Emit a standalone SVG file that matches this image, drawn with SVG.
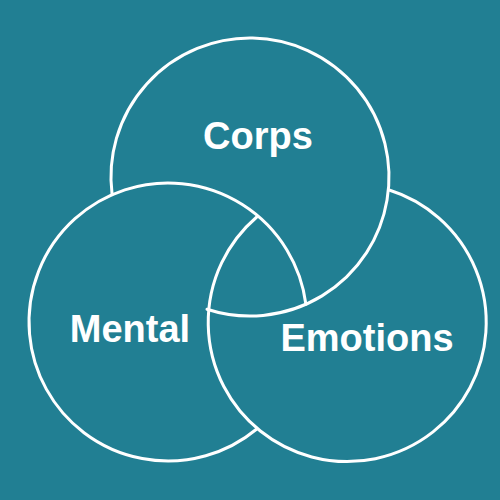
<svg xmlns="http://www.w3.org/2000/svg" width="500" height="500" viewBox="0 0 500 500">
  <style>
    .ring { fill: none; stroke: #ffffff; stroke-width: 3; stroke-linecap: round; }
    .label { fill: #ffffff; font-family: "Liberation Sans", Arial, sans-serif; font-weight: bold; font-size: 38px; text-anchor: middle; }
  </style>
  <rect width="500" height="500" fill="#217F93"/>
  <g id="connectors"></g>
  <g id="corps">
    <path class="ring" d="M 112.1 194.7 A 139 139 0 1 1 207 309.2"/>
    <text class="label" x="258" y="149">Corps</text>
  </g>
  <g id="mental">
    <path class="ring" d="M 305.9 304.3 A 139 139 0 1 0 256.75 429"/>
    <text class="label" x="130" y="341.5">Mental</text>
  </g>
  <g id="emotions">
    <path class="ring" d="M 388.5 189.8 A 139 139 0 1 1 256.75 217"/>
    <text class="label" x="367" y="351">Emotions</text>
  </g>
</svg>
